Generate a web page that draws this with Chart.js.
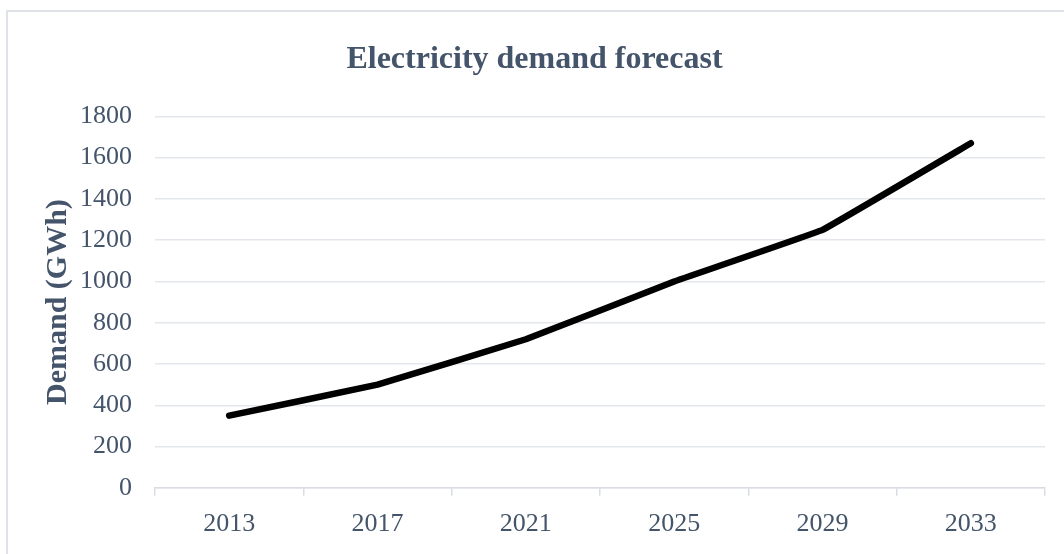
<!DOCTYPE html>
<html>
<head>
<meta charset="utf-8">
<script src="https://cdn.jsdelivr.net/npm/chart.js@4/dist/chart.umd.min.js"></script>
<style>
  html, body { margin: 0; padding: 0; background: #fff; overflow: hidden; }
  #frame {
    position: absolute; left: 6px; top: 10px; width: 1100px; height: 600px;
    border: 2px solid #dfe3e9; box-sizing: border-box;
  }
  #wrap { position: absolute; left: 0; top: 0; width: 1064px; height: 554px; }
</style>
</head>
<body>
<div id="frame"></div>
<div id="wrap"><canvas id="chart" width="1064" height="554"></canvas></div>
<script>
const years = ["2013", "2017", "2021", "2025", "2029", "2033"];
const demand = [350, 500, 720, 1000, 1250, 1670];

const textColor = "#44546a";
const fontFamily = "'Liberation Serif', 'Times New Roman', serif";

new Chart(document.getElementById("chart"), {
  type: "line",
  data: {
    labels: years,
    datasets: [{
      data: demand,
      borderColor: "#000",
      borderWidth: 6.5,
      borderCapStyle: "round",
      borderJoinStyle: "round",
      pointRadius: 0,
      tension: 0.05,
      fill: false,
    }]
  },
  options: {
    responsive: false,
    animation: false,
    devicePixelRatio: 1,
    layout: { padding: { top: 0, left: 24, right: 19, bottom: 1 } },
    plugins: {
      legend: { display: false },
      tooltip: { enabled: false },
      title: {
        display: true,
        text: "Electricity demand forecast",
        color: textColor,
        font: { family: fontFamily, size: 32, weight: "bold" },
        padding: { top: 41, bottom: 37 },
      }
    },
    scales: {
      x: {
        offset: true,
        grid: {
          offset: true,
          drawOnChartArea: false,
          drawTicks: true,
          tickLength: 8,
          color: "#d9dde3",
          lineWidth: 1.5,
        },
        border: { color: "#d9dde3", width: 1.5 },
        ticks: {
          color: textColor,
          padding: 13,
          font: { family: fontFamily, size: 26 },
        }
      },
      y: {
        min: 0,
        max: 1800,
        afterFit: (scale) => { scale.width = 131; },
        grid: { color: "#e3e7ec", lineWidth: 1.5, drawTicks: false },
        border: { display: false },
        ticks: {
          stepSize: 200,
          color: textColor,
          padding: 23,
          font: { family: fontFamily, size: 26 },
          callback: (value) => String(value),
        },
        title: {
          display: true,
          text: "Demand (GWh)",
          color: textColor,
          font: { family: fontFamily, size: 30, weight: "bold" },
          padding: { top: 16, bottom: 4 },
        }
      }
    }
  }
});
</script>
</body>
</html>
